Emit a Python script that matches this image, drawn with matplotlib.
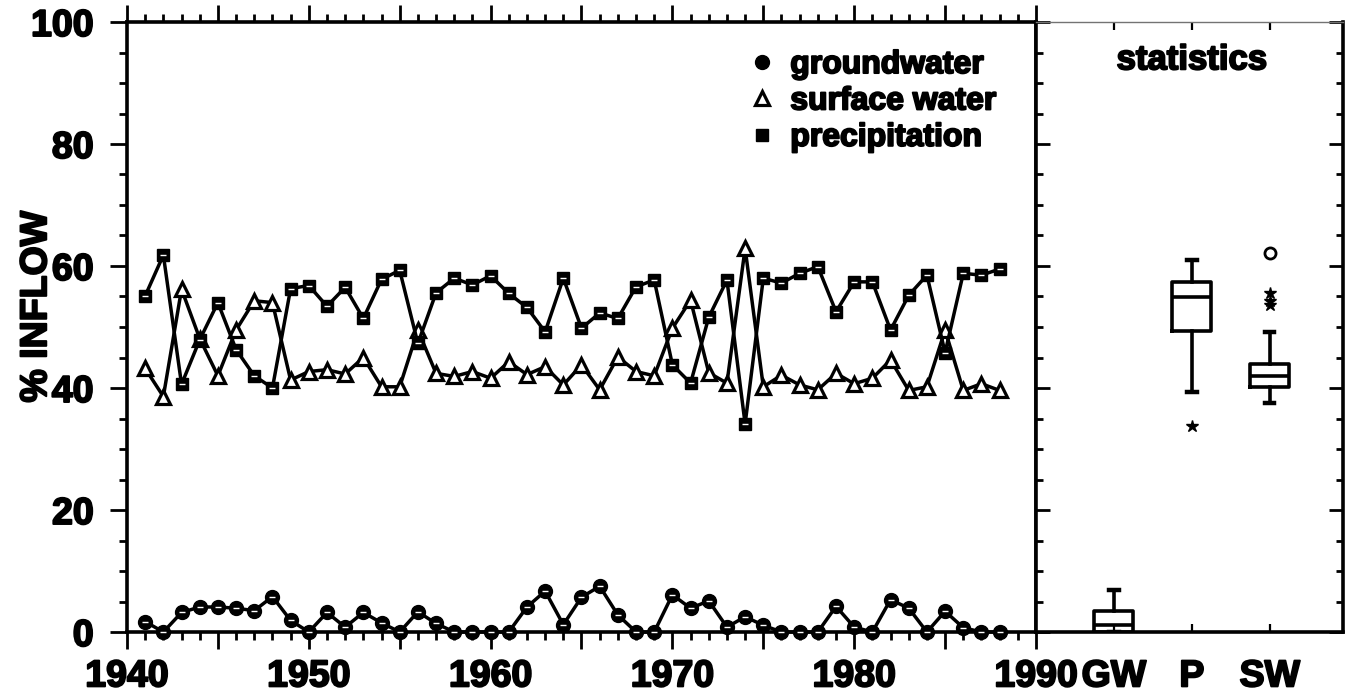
import numpy as np
import matplotlib
matplotlib.use("Agg")
from matplotlib import pyplot as plt
from matplotlib import patheffects
from matplotlib.text import Text
from matplotlib.lines import Line2D
from matplotlib.ticker import MultipleLocator, FuncFormatter

# yearly inflow shares (%)
years = np.arange(1941, 1989)
groundwater = [1.7, 0.0, 3.2, 4.1, 4.1, 3.9, 3.5, 5.8, 1.9, 0.0,
               3.2, 0.8, 3.2, 1.5, 0.0, 3.3, 1.4, 0.0, 0.0, 0.0,
               0.0, 4.1, 6.7, 1.2, 5.7, 7.5, 2.8, 0.0, 0.0, 6.1,
               3.9, 5.1, 0.8, 2.5, 1.1, 0.0, 0.0, 0.0, 4.2, 0.8,
               0.0, 5.3, 3.9, 0.0, 3.4, 0.7, 0.0, 0.0]
surface_water = [43.2, 38.6, 56.2, 48.1, 42.0, 49.5, 54.3, 54.0, 41.3, 42.7,
                 43.0, 42.3, 45.0, 40.2, 40.2, 49.5, 42.4, 41.9, 42.7, 41.6,
                 44.3, 42.2, 43.5, 40.5, 43.8, 39.7, 45.1, 42.7, 42.0, 49.8,
                 54.4, 42.5, 40.8, 62.9, 40.2, 42.1, 40.5, 39.7, 42.4, 40.7,
                 41.6, 44.6, 39.6, 40.2, 49.5, 39.6, 40.7, 39.6]
precipitation = [55.1, 61.8, 40.6, 47.9, 54.0, 46.3, 42.0, 40.0, 56.3, 56.8,
                 53.4, 56.5, 51.4, 57.8, 59.3, 47.3, 55.6, 58.0, 56.9, 58.4,
                 55.5, 53.2, 49.2, 58.0, 49.8, 52.3, 51.4, 56.6, 57.7, 43.8,
                 40.8, 51.6, 57.7, 34.1, 58.0, 57.2, 58.8, 59.9, 52.5, 57.4,
                 57.4, 49.5, 55.2, 58.5, 45.8, 58.8, 58.5, 59.5]

# box plot summary ("statistics" panel)
box_names = ["GW", "P", "SW"]
box_low = [0.0, 39.4, 37.5]
box_q1 = [0.0, 49.4, 40.2]
box_med = [1.15, 54.9, 41.9]
box_q3 = [3.5, 57.3, 44.0]
box_high = [6.9, 61.0, 49.1]
star_pos = [2, 3, 3, 3]
star_val = [33.7, 55.5, 54.3, 53.6]
far_pos = [3]
far_val = [62.1]

plt.rcParams['font.family'] = ['Liberation Sans', 'DejaVu Sans']
plt.rcParams['font.weight'] = 'bold'

W, H = 1355, 696
fig = plt.figure(figsize=(W / 100, H / 100), dpi=100)
ax = fig.add_axes([127 / W, 64 / H, 909 / W, 610 / H])
ax2 = fig.add_axes([1036 / W, 64 / H, 307 / W, 610 / H])

lw = 2.5
ax.plot(years, surface_water, '-^', color='k', lw=lw, ms=10.5, mfc='w', mec='k',
        mew=2.3, clip_on=False, zorder=3)
ax.plot(years, precipitation, '-s', color='k', lw=lw, ms=8.5, mfc='k', mec='k',
        clip_on=False, zorder=4)
ax.plot(years, groundwater, '-o', color='k', lw=lw, ms=10, mfc='k', mec='k',
        clip_on=False, zorder=5)
# little white dashes in the filled symbols
ax.plot(years, precipitation, ls='none', marker='_', ms=4, mec='w', mew=1,
        clip_on=False, zorder=6)
ax.plot(years, groundwater, ls='none', marker='_', ms=4.5, mec='w', mew=1,
        clip_on=False, zorder=6)

ax.set_xlim(1940, 1990)
ax.set_ylim(0, 100)
ax.xaxis.set_major_locator(MultipleLocator(5))
ax.xaxis.set_minor_locator(MultipleLocator(1))
ax.xaxis.set_major_formatter(FuncFormatter(lambda v, p: "%d" % v if round(v) % 10 == 0 else ""))
ax.yaxis.set_major_locator(MultipleLocator(20))
ax.yaxis.set_minor_locator(MultipleLocator(5))
ax.tick_params(axis='x', which='both', direction='out', top=True, width=2,
               labelsize=27, pad=7)
ax.tick_params(axis='y', which='both', direction='out', width=2,
               labelsize=27, pad=12)
ax.tick_params(which='major', length=12)
ax.tick_params(which='minor', length=6)
for s in ax.spines.values():
    s.set_linewidth(2.6)

ax.set_ylabel("% INFLOW", fontsize=27, fontweight='bold')
ax.yaxis.set_label_coords(-0.08, 0.533)

handles = [
    Line2D([], [], ls='none', marker='o', ms=10, mfc='k', mec='k'),
    Line2D([], [], ls='none', marker='^', ms=10.5, mfc='w', mec='k', mew=2.3),
    Line2D([], [], ls='none', marker='s', ms=8.5, mfc='k', mec='k'),
]
ax.legend(handles, ["groundwater", "surface water", "precipitation"],
          loc='upper left', bbox_to_anchor=(0.684, 0.954), frameon=False,
          borderpad=0, borderaxespad=0, handlelength=0.8, handletextpad=0.5,
          labelspacing=0.2, prop={'size': 23, 'weight': 'bold'})

# statistics panel
stats = []
for i in range(len(box_names)):
    stats.append({'label': box_names[i], 'whislo': box_low[i], 'q1': box_q1[i],
                  'med': box_med[i], 'q3': box_q3[i], 'whishi': box_high[i]})
line_kw = {'color': 'k', 'linewidth': 2.6}
ax2.bxp(stats, positions=[1, 2, 3], widths=0.5, capwidths=0.12,
        showfliers=False, boxprops=line_kw, medianprops=line_kw,
        whiskerprops=line_kw, capprops={'color': 'k', 'linewidth': 3.2})
ax2.plot(star_pos, star_val, ls='none', marker='*', ms=9, color='k')
ax2.plot(far_pos, far_val, ls='none', marker='o', ms=8, mfc='w', mec='k', mew=2)

ax2.set_xlim(0, 3.94)
ax2.set_ylim(0, 100)
ax2.set_xticks([1, 2, 3])
ax2.set_xticklabels(box_names)
ax2.yaxis.set_major_locator(MultipleLocator(20))
ax2.yaxis.set_minor_locator(MultipleLocator(5))
ax2.tick_params(axis='y', which='both', direction='in', left=True, right=True,
                labelleft=False, width=2)
ax2.tick_params(axis='y', which='major', length=10)
ax2.tick_params(axis='y', which='minor', length=5)
ax2.tick_params(axis='x', direction='in', top=True, length=6, width=1.6,
                labelsize=27, pad=19)
for s in ax2.spines.values():
    s.set_linewidth(2.6)
ax2.spines['top'].set_linewidth(1.0)
ax2.spines['top'].set_color('0.45')
ax2.text(2, 93.8, "statistics", ha='center', va='center',
         fontsize=25, fontweight='bold')

# heavy print look for all lettering
fig.canvas.draw()
for t in fig.findobj(Text):
    if t.get_text():
        t.set_path_effects([patheffects.withStroke(linewidth=1.4, foreground='k')])

fig.savefig("out.png", dpi=100)
